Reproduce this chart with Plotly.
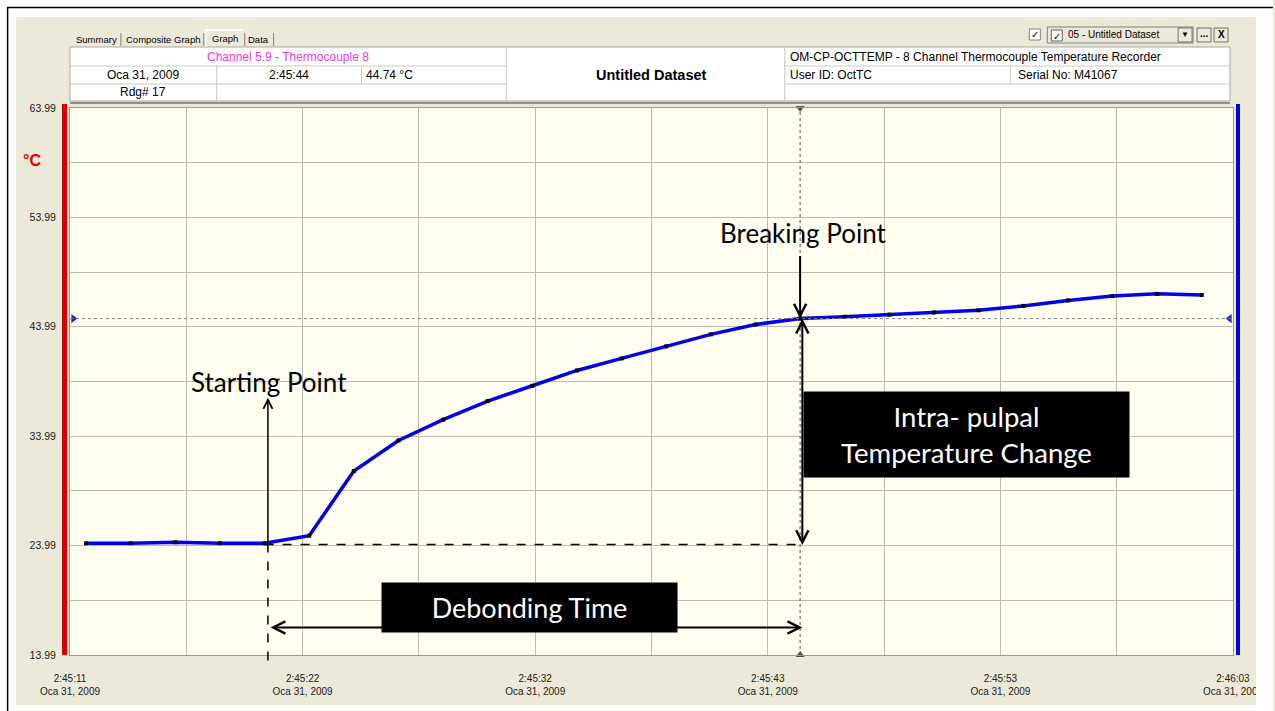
import plotly.graph_objects as go
import numpy as np

# readings every 2 s, seconds after 2:45:00 (Oca 31, 2009)
times = [12, 14, 16, 18, 20, 22, 24, 26, 28, 30, 32, 34, 36,
         38, 40, 42, 44, 46, 48, 50, 52, 54, 56, 58, 60, 62]
temps = [24.2, 24.2, 24.3, 24.2, 24.2, 24.9, 30.8, 33.6, 35.5, 37.2, 38.6, 40.0, 41.1,
         42.2, 43.3, 44.2, 44.74, 44.9, 45.1, 45.3, 45.5, 45.9, 46.4, 46.8, 47.0, 46.9]

x_labels = ["2:45:11", "2:45:22", "2:45:32", "2:45:43", "2:45:53", "2:46:03"]
y_labels = ["13.99", "23.99", "33.99", "43.99", "53.99", "63.99"]
date_label = "Oca 31, 2009"

cursor_time = 44       # Rdg# 17
cursor_temp = 44.74
start_time = 20
start_temp = 24.2

x_min, x_max = 11.28, 63.4
y_min, y_max = 13.99, 63.99

# figure geometry (pixels)
W, H = 1275, 711
L, R, T, B = 70, 1235, 108, 655
UI = "Liberation Sans"
ANN = "Lato"


def px(x):
    return (x - L) / (R - L)


def py(y):
    return (B - y) / (B - T)


fig = go.Figure()

fig.add_trace(go.Scatter(
    x=times, y=temps, mode="lines+markers",
    line=dict(color="#0000EE", width=3.5),
    marker=dict(symbol="square", size=4, color="black"),
    showlegend=False, hoverinfo="x+y"))

# cursor markers
fig.add_trace(go.Scatter(
    x=[cursor_time, cursor_time], y=[y_max, y_min], mode="markers",
    marker=dict(symbol=["triangle-down", "triangle-up"], size=8, color="#505050"),
    cliponaxis=False, showlegend=False, hoverinfo="skip"))
fig.add_trace(go.Scatter(
    x=[x_min + 0.15, x_max - 0.15], y=[cursor_temp, cursor_temp], mode="markers",
    marker=dict(symbol=["triangle-right", "triangle-left"], size=8, color="#2020E0"),
    cliponaxis=False, showlegend=False, hoverinfo="skip"))

shapes = []
# white outer border + black frame
for x0, y0, x1, y1 in [(0, 0, 16, H), (0, 0, W, 17), (1258, 0, W, H), (0, 705, W, H)]:
    shapes.append(dict(type="rect", xref="paper", yref="paper", layer="above",
                       x0=px(x0), x1=px(x1), y0=py(y1), y1=py(y0),
                       fillcolor="white", line=dict(width=0)))
shapes.append(dict(type="line", xref="paper", yref="paper", layer="above",
                   x0=px(7.5), x1=px(7.5), y0=py(H), y1=py(7), line=dict(color="black", width=1.5)))
shapes.append(dict(type="line", xref="paper", yref="paper", layer="above",
                   x0=px(7), x1=px(W), y0=py(7.5), y1=py(7.5), line=dict(color="black", width=1.5)))

# header table
shapes.append(dict(type="rect", xref="paper", yref="paper",
                   x0=px(70), x1=px(1232), y0=py(101), y1=py(47),
                   fillcolor="white", line=dict(color="#A8A8A0", width=1)))
for y in [66, 84]:
    shapes.append(dict(type="line", xref="paper", yref="paper",
                       x0=px(70), x1=px(507), y0=py(y), y1=py(y), line=dict(color="#C8C8C0", width=1)))
    shapes.append(dict(type="line", xref="paper", yref="paper",
                       x0=px(786), x1=px(1232), y0=py(y), y1=py(y), line=dict(color="#C8C8C0", width=1)))
for x, y0, y1 in [(217, 66, 101), (362, 66, 84), (507, 47, 101), (786, 47, 101), (1012, 66, 84)]:
    shapes.append(dict(type="line", xref="paper", yref="paper",
                       x0=px(x), x1=px(x), y0=py(y1), y1=py(y0), line=dict(color="#C8C8C0", width=1)))
shapes.append(dict(type="line", xref="paper", yref="paper",
                   x0=px(70), x1=px(1232), y0=py(103), y1=py(103), line=dict(color="#909088", width=2)))

# tabs
for x in [121, 204, 245, 274]:
    shapes.append(dict(type="line", xref="paper", yref="paper",
                       x0=px(x), x1=px(x), y0=py(46), y1=py(33), line=dict(color="#808080", width=1)))
shapes.append(dict(type="path", xref="paper", yref="paper",
                   path=f"M {px(206)},{py(47)} L {px(206)},{py(30)} L {px(243)},{py(30)}",
                   line=dict(color="white", width=1.5)))

# top right controls
shapes.append(dict(type="rect", xref="paper", yref="paper",
                   x0=px(1031), x1=px(1042), y0=py(40), y1=py(29),
                   fillcolor="white", line=dict(color="#808080", width=1)))
shapes.append(dict(type="rect", xref="paper", yref="paper",
                   x0=px(1049), x1=px(1195), y0=py(43), y1=py(27),
                   fillcolor="#ECE9D8", line=dict(color="#808080", width=1)))
shapes.append(dict(type="rect", xref="paper", yref="paper",
                   x0=px(1053), x1=px(1064), y0=py(41), y1=py(30),
                   fillcolor="white", line=dict(color="#606060", width=1)))
for x0, x1 in [(1180, 1194), (1199, 1213), (1216, 1230)]:
    shapes.append(dict(type="rect", xref="paper", yref="paper",
                       x0=px(x0), x1=px(x1), y0=py(42), y1=py(28),
                       fillcolor="#ECE9D8", line=dict(color="#707070", width=1)))

# red / blue side bars
shapes.append(dict(type="rect", xref="paper", yref="paper",
                   x0=px(62), x1=px(67), y0=py(655), y1=py(104),
                   fillcolor="#D80000", line=dict(width=0)))
shapes.append(dict(type="rect", xref="paper", yref="paper",
                   x0=px(1238), x1=px(1242), y0=py(655), y1=py(104),
                   fillcolor="#0000E0", line=dict(width=0)))

# cursor lines
shapes.append(dict(type="line", xref="x", yref="paper", x0=cursor_time, x1=cursor_time,
                   y0=0, y1=1, line=dict(color="#505050", width=1, dash="dot")))
shapes.append(dict(type="line", xref="paper", yref="y", x0=0, x1=1,
                   y0=cursor_temp, y1=cursor_temp, line=dict(color="#808080", width=1, dash="dot")))

# dashed guides from the starting point
shapes.append(dict(type="line", xref="x", yref="y", x0=start_time, x1=cursor_time,
                   y0=start_temp - 0.1, y1=start_temp - 0.1, line=dict(color="black", width=1.5, dash="dash")))
shapes.append(dict(type="line", xref="x", yref="paper", x0=start_time + 0.15, x1=start_time + 0.15,
                   y0=-0.01, y1=(start_temp - y_min) / (y_max - y_min),
                   line=dict(color="black", width=1.5, dash="dash")))

annotations = []


def label(text, x, y, size=12, color="black", bold=False, xanchor="center", font=UI):
    if bold:
        text = f"<b>{text}</b>"
    annotations.append(dict(text=text, x=px(x), y=py(y), xref="paper", yref="paper",
                            showarrow=False, xanchor=xanchor, yanchor="middle",
                            font=dict(family=font, size=size, color=color)))


label("Summary", 97, 40, size=9.5)
label("Composite Graph", 163, 40, size=9.5)
label("Graph", 225, 38, size=9.5)
label("Data", 259, 40, size=9.5)
label("Channel 5.9 - Thermocouple 8", 288, 57, color="#E03CE0")
label(date_label, 143, 75)
label("2:45:44", 289, 75)
label(f"{cursor_temp} °C", 365, 75, xanchor="left")
label("Rdg# 17", 143, 92)
label("Untitled Dataset", 652, 75, size=14.5, bold=True)
label("OM-CP-OCTTEMP - 8 Channel Thermocouple Temperature Recorder", 789, 57, xanchor="left")
label("User ID: OctTC", 789, 75, xanchor="left")
label("Serial No: M41067", 1018, 75, xanchor="left")
label("✓", 1036.5, 35, size=10)
label("✓", 1058.5, 36, size=10)
label("05 - Untitled Dataset", 1068, 35, size=10, xanchor="left")
label("▼", 1187, 35, size=8)
label("...", 1206, 33, size=10, bold=True)
label("X", 1223, 35, size=10, bold=True)
label("°C", 32, 160, size=16, color="#E00000", bold=True)

# arrows
arrow = dict(xref="x", yref="y", axref="x", ayref="y", text="", showarrow=True,
             arrowhead=5, arrowsize=1.2, arrowwidth=2, arrowcolor="black", standoff=0, startstandoff=0)
annotations.append(dict(arrow, x=start_time + 0.15, y=37.5, ax=start_time + 0.15, ay=start_temp, arrowwidth=1.5))
annotations.append(dict(arrow, x=cursor_time, y=cursor_temp, ax=cursor_time, ay=50.6))
annotations.append(dict(arrow, x=cursor_time + 0.1, y=cursor_temp, ax=cursor_time + 0.1, ay=start_temp - 0.3,
                        arrowside="end+start"))
annotations.append(dict(arrow, x=cursor_time + 0.1, y=16.5, ax=start_time + 0.2, ay=16.5,
                        arrowside="end+start"))

annotations.append(dict(text="Starting Point", x=20.2, y=38.95, xref="x", yref="y", showarrow=False,
                        font=dict(family=ANN, size=26, color="black")))
annotations.append(dict(text="Breaking Point", x=44.15, y=52.56, xref="x", yref="y", showarrow=False,
                        font=dict(family=ANN, size=26, color="black")))
annotations.append(dict(text="Debonding Time", x=31.87, y=18.33, xref="x", yref="y", showarrow=False,
                        width=293, height=47, bgcolor="black", borderpad=1,
                        font=dict(family=ANN, size=27, color="white")))
annotations.append(dict(text="Intra- pulpal<br>Temperature Change", x=51.45, y=34.15, xref="x", yref="y",
                        showarrow=False, width=323, height=83, bgcolor="black", borderpad=1,
                        font=dict(family=ANN, size=27.5, color="white")))

x_grid = np.linspace(x_min, x_max, 11)
x_text = []
for i in range(11):
    x_text.append(f"{x_labels[i // 2]}<br>{date_label}" if i % 2 == 0 else "")
y_grid = np.arange(y_min, y_max + 0.01, 5)
y_text = [y_labels[i // 2] if i % 2 == 0 else "" for i in range(len(y_grid))]

fig.update_layout(
    width=W, height=H,
    margin=dict(l=L, r=W - R, t=T, b=H - B),
    paper_bgcolor="#ECE9D8",
    plot_bgcolor="#FFFEF0",
    shapes=shapes,
    annotations=annotations,
    xaxis=dict(range=[x_min, x_max], tickmode="array", tickvals=x_grid, ticktext=x_text,
               showgrid=True, gridcolor="#BDBAAE", gridwidth=1, zeroline=False,
               showline=True, linecolor="#9C9A90", mirror=True, ticks="",
               ticklabelstandoff=14, tickfont=dict(family=UI, size=10, color="#202020")),
    yaxis=dict(range=[y_min, y_max], tickmode="array", tickvals=y_grid, ticktext=y_text,
               showgrid=True, gridcolor="#BDBAAE", gridwidth=1, zeroline=False,
               showline=True, linecolor="#9C9A90", mirror=True, ticks="",
               ticklabelstandoff=11, tickfont=dict(family=UI, size=10.5, color="#202020")),
)

# page body has a default 8px margin; drop it so the figure sits at the window origin
fig.write_html("out.html", config={"displayModeBar": False},
               post_script="document.body.style.margin='0';")
